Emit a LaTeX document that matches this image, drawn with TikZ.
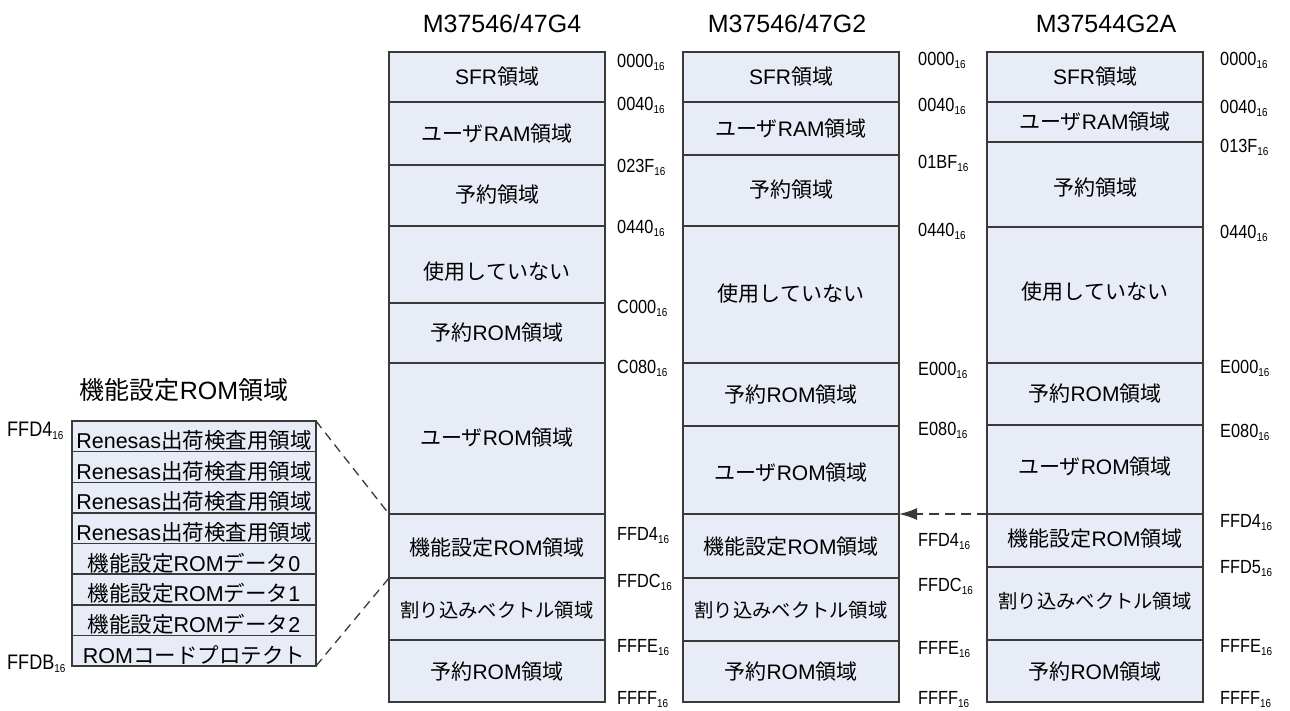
\documentclass[tikz,border=0pt]{standalone}
\usepackage{fontspec}
\setmainfont{Liberation Sans}
\newfontfamily\jpfont{Noto Sans CJK JP}
\newfontfamily\addrfont[FakeStretch=0.86]{Liberation Sans}
\usetikzlibrary{arrows.meta}
\definecolor{mapfill}{HTML}{E8ECF6}
\definecolor{mapline}{HTML}{3A3A3A}
\newcommand{\jp}[1]{{\jpfont #1}}
\newcommand{\hex}[1]{#1\raisebox{-0.35ex}{\fontsize{11.5}{12}\selectfont 16}}

\begin{document}
\begin{tikzpicture}[x=1pt, y=-1pt,
  mapbox/.style={fill=mapfill, draw=mapline, line width=1.5pt},
  mapsep/.style={draw=mapline, line width=1.5pt},
  cell/.style={font=\fontsize{21}{24}\selectfont, inner sep=0pt},
  addr/.style={font=\addrfont\fontsize{19}{20}\selectfont, anchor=base west, inner sep=0pt},
  title/.style={font=\fontsize{25}{28}\selectfont, inner sep=0pt}]

\useasboundingbox (0,0) rectangle (1290,710);

%% ------------------------------------------------------------------
%% M37546/47G4 -- x 389..605, one cell per area, addresses on the right
%% ------------------------------------------------------------------
\begin{scope}
\node[title] (tgfour) at (502,24) {M37546/47G4};
\draw[mapbox] (389,52) rectangle (605,702);
\foreach \y in {102,165,226,303,363,514,578,640}{ \draw[mapsep] (389,\y) -- (605,\y); }
\foreach \y/\lab [count=\i] in {77/{SFR\jp{領域}}, 134/{\jp{ユーザ}RAM\jp{領域}},
    195/{\jp{予約領域}}, 272/{\jp{使用していない}}, 333/{\jp{予約}ROM\jp{領域}},
    438/{\jp{ユーザ}ROM\jp{領域}}, 548/{\jp{機能設定}ROM\jp{領域}},
    610/{\fontsize{19.3}{22}\selectfont\jp{割り込みベクトル領域}}, 672/{\jp{予約}ROM\jp{領域}}}{
  \node[cell] (gfour\i) at (497,\y) {\lab};
}
\foreach \y/\lab [count=\i] in {67/0000, 110/0040, 172/023F, 233/0440, 313/C000,
    373/C080, 540/FFD4, 587/FFDC, 652/FFFE, 704/FFFF}{
  \node[addr] (agfour\i) at (617,\y) {\hex{\lab}};
}
% ends of the function-set ROM area, for the zoom lines
\coordinate (gfourtop) at (389,514);
\coordinate (gfourbot) at (389,578);
\end{scope}

%% ------------------------------------------------------------------
%% M37546/47G2 -- x 683..899
%% ------------------------------------------------------------------
\begin{scope}
\node[title] (tgtwo) at (787,24) {M37546/47G2};
\draw[mapbox] (683,52) rectangle (899,702);
\foreach \y in {102,155,226,363,426,514,578,641}{ \draw[mapsep] (683,\y) -- (899,\y); }
\foreach \y/\lab [count=\i] in {77/{SFR\jp{領域}}, 129/{\jp{ユーザ}RAM\jp{領域}},
    190/{\jp{予約領域}}, 294/{\jp{使用していない}}, 395/{\jp{予約}ROM\jp{領域}},
    473/{\jp{ユーザ}ROM\jp{領域}}, 547/{\jp{機能設定}ROM\jp{領域}},
    610/{\fontsize{19.3}{22}\selectfont\jp{割り込みベクトル領域}}, 672/{\jp{予約}ROM\jp{領域}}}{
  \node[cell] (gtwo\i) at (791,\y) {\lab};
}
\foreach \y/\lab [count=\i] in {65/0000, 111/0040, 168/01BF, 236/0440, 375/E000,
    435/E080, 546/FFD4, 591/FFDC, 654/FFFE, 704/FFFF}{
  \node[addr] (agtwo\i) at (918,\y) {\hex{\lab}};
}
\coordinate (gtwoedge) at (899,514);
\end{scope}

%% ------------------------------------------------------------------
%% M37544G2A -- x 987..1203
%% ------------------------------------------------------------------
\begin{scope}
\node[title] (tgtwoa) at (1106,24) {M37544G2A};
\draw[mapbox] (987,52) rectangle (1203,702);
\foreach \y in {102,142,227,363,425,514,567,640}{ \draw[mapsep] (987,\y) -- (1203,\y); }
\foreach \y/\lab [count=\i] in {77/{SFR\jp{領域}}, 122/{\jp{ユーザ}RAM\jp{領域}},
    188/{\jp{予約領域}}, 292/{\jp{使用していない}}, 394/{\jp{予約}ROM\jp{領域}},
    467/{\jp{ユーザ}ROM\jp{領域}}, 539/{\jp{機能設定}ROM\jp{領域}},
    601/{\fontsize{19.3}{22}\selectfont\jp{割り込みベクトル領域}}, 672/{\jp{予約}ROM\jp{領域}}}{
  \node[cell] (gtwoa\i) at (1095,\y) {\lab};
}
\foreach \y/\lab [count=\i] in {65/0000, 113/0040, 152/013F, 238/0440, 373/E000,
    437/E080, 527/FFD4, 573/FFD5, 652/FFFE, 704/FFFF}{
  \node[addr] (agtwoa\i) at (1220,\y) {\hex{\lab}};
}
\coordinate (gtwoaedge) at (987,514);
\end{scope}

% same area, moved: G2A points back at G2
\draw[mapline, line width=1.6pt, dash pattern=on 10pt off 6pt, -{Latex[length=18pt, width=12pt]}]
  (gtwoaedge) -- (gtwoedge);

%% ------------------------------------------------------------------
%% function-set ROM area, byte by byte (FFD4..FFDB)
%% rows are 244 wide, 30.6 high
%% ------------------------------------------------------------------
\begin{scope}
\node[title] (tdetail) at (184,390) {\jp{機能設定}ROM\jp{領域}};
\draw[mapbox] (72,421) rectangle (316,666);
\foreach \k in {1,...,7}{ \draw[mapsep] (72,421+30.625*\k) -- (316,421+30.625*\k); }
\foreach \lab [count=\i] in {{Renesas\jp{出荷検査用領域}}, {Renesas\jp{出荷検査用領域}},
    {Renesas\jp{出荷検査用領域}}, {Renesas\jp{出荷検査用領域}},
    {\jp{機能設定}ROM\jp{データ}0}, {\jp{機能設定}ROM\jp{データ}1},
    {\jp{機能設定}ROM\jp{データ}2}, {ROM\jp{コードプロテクト}}}{
  \node[cell, font=\fontsize{21.5}{24}\selectfont] (byte\i) at (194,421+30.625*\i-11.3) {\lab};
}
\node[addr, font=\addrfont\fontsize{21}{22}\selectfont] (adfirst) at (7,436) {\hex{FFD4}};
\node[addr, font=\addrfont\fontsize{21}{22}\selectfont] (adlast) at (7,669) {\hex{FFDB}};
\coordinate (dtop) at (316,421);
\coordinate (dbot) at (316,666);
\end{scope}

% zoom lines back to the G4 map
\draw[mapline, line width=1.3pt, dash pattern=on 9pt off 6pt] (dtop) -- (gfourtop);
\draw[mapline, line width=1.3pt, dash pattern=on 9pt off 6pt] (dbot) -- (gfourbot);

\end{tikzpicture}
\end{document}
